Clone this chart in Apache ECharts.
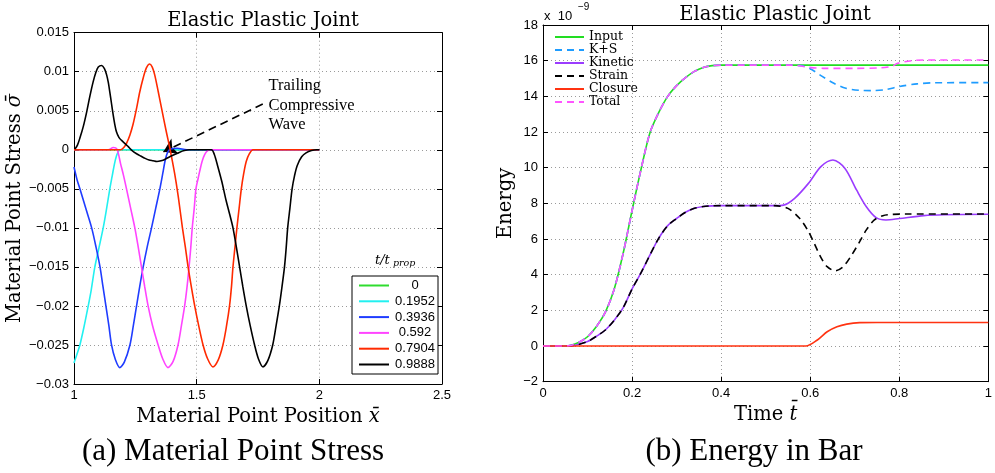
<!DOCTYPE html>
<html><head><meta charset="utf-8">
<script src="https://cdn.jsdelivr.net/npm/echarts@6/dist/echarts.min.js"></script>
<style>html,body{margin:0;padding:0;background:#fff}#c{width:995px;height:473px}</style>
</head><body><div id="c"></div>
<script>
// ---------- Left panel: material point stress ----------
const stressLabels = ['0', '0.1952', '0.3936', '0.592', '0.7904', '0.9888'];
const stressColors = ['#2fdc2f', '#22f0f0', '#1f3cff', '#ff44ff', '#ff2a00', '#000000'];
const stressT0 = [[1, 0], [1.5, 0], [2, 0]];
const stressT1 = [[1.0, -0.0273], [1.012, -0.0262], [1.024, -0.025], [1.04, -0.0228], [1.058, -0.02], [1.07, -0.018], [1.085, -0.015], [1.1, -0.0128], [1.119, -0.01], [1.133, -0.0075], [1.146, -0.005], [1.156, -0.0033], [1.165, -0.0018], [1.173, -0.0008], [1.181, -0.0002], [1.19, 0], [1.4, 0], [2, 0]];
const stressT2 = [[1.0, -0.0022], [1.013, -0.0039], [1.024, -0.005], [1.048, -0.0075], [1.072, -0.01], [1.09, -0.0125], [1.106, -0.015], [1.118, -0.0175], [1.13, -0.02], [1.142, -0.0225], [1.153, -0.025], [1.168, -0.0268], [1.187, -0.0279], [1.205, -0.0272], [1.228, -0.025], [1.242, -0.0225], [1.255, -0.02], [1.268, -0.0175], [1.282, -0.015], [1.298, -0.0125], [1.316, -0.01], [1.333, -0.0075], [1.35, -0.005], [1.362, -0.003], [1.372, -0.0013], [1.382, -0.0003], [1.395, 0.0001], [1.42, 0.0002], [1.46, 0], [2, 0]];
const stressT3 = [[1, 0], [1.14, 0], [1.16, 0.0003], [1.175, 0.0001], [1.19, -0.0018], [1.202, -0.0033], [1.214, -0.005], [1.231, -0.0075], [1.248, -0.01], [1.262, -0.0125], [1.275, -0.015], [1.288, -0.0175], [1.302, -0.02], [1.32, -0.0225], [1.343, -0.025], [1.362, -0.0268], [1.383, -0.0279], [1.404, -0.0271], [1.424, -0.025], [1.438, -0.0225], [1.451, -0.02], [1.461, -0.0175], [1.469, -0.015], [1.476, -0.0125], [1.482, -0.01], [1.49, -0.0075], [1.497, -0.005], [1.505, -0.0038], [1.512, -0.0028], [1.522, -0.0015], [1.533, -0.0006], [1.545, -0.0001], [1.56, 0], [2, 0]];
const stressT4 = [[1, 0], [1.19, 0], [1.203, 0.0003], [1.215, 0.0009], [1.228, 0.0019], [1.241, 0.0033], [1.255, 0.0053], [1.268, 0.0074], [1.282, 0.0092], [1.295, 0.0105], [1.309, 0.011], [1.319, 0.0106], [1.329, 0.0096], [1.343, 0.0075], [1.357, 0.0053], [1.375, 0.0025], [1.392, 0], [1.41, -0.003], [1.425, -0.006], [1.442, -0.01], [1.454, -0.0125], [1.465, -0.015], [1.478, -0.0175], [1.492, -0.02], [1.508, -0.0225], [1.526, -0.025], [1.545, -0.0268], [1.566, -0.0278], [1.588, -0.0269], [1.607, -0.025], [1.622, -0.0225], [1.634, -0.02], [1.642, -0.0175], [1.648, -0.015], [1.656, -0.0125], [1.664, -0.01], [1.673, -0.0075], [1.682, -0.005], [1.692, -0.003], [1.702, -0.0015], [1.715, -0.0005], [1.73, 0], [2, 0]];
const stressT5 = [[1.004, 0.0001], [1.014, 0.0006], [1.024, 0.0015], [1.038, 0.003], [1.052, 0.0049], [1.065, 0.0069], [1.078, 0.0087], [1.089, 0.0099], [1.099, 0.0106], [1.113, 0.0108], [1.124, 0.0104], [1.133, 0.0096], [1.14, 0.0086], [1.146, 0.0074], [1.153, 0.0059], [1.16, 0.0044], [1.166, 0.0033], [1.173, 0.0023], [1.183, 0.0016], [1.194, 0.0012], [1.208, 0.0008], [1.221, 0.0004], [1.237, -0.0001], [1.255, -0.0005], [1.272, -0.0008], [1.29, -0.0011], [1.306, -0.0013], [1.322, -0.0014], [1.338, -0.0015], [1.355, -0.0014], [1.372, -0.0012], [1.39, -0.0009], [1.41, -0.0006], [1.431, -0.0003], [1.45, -0.0001], [1.47, 0], [1.56, 0], [1.572, -0.0006], [1.585, -0.002], [1.602, -0.004], [1.62, -0.0065], [1.634, -0.0082], [1.648, -0.01], [1.662, -0.0125], [1.675, -0.015], [1.688, -0.0175], [1.702, -0.02], [1.718, -0.0225], [1.736, -0.025], [1.752, -0.0268], [1.77, -0.0278], [1.79, -0.027], [1.81, -0.025], [1.824, -0.0225], [1.837, -0.02], [1.848, -0.0175], [1.858, -0.015], [1.865, -0.0125], [1.871, -0.01], [1.88, -0.0075], [1.889, -0.005], [1.899, -0.0033], [1.91, -0.002], [1.928, -0.0009], [1.946, -0.0004], [1.968, -0.0001], [1.99, 0], [2, 0]];
const stressSeries = [stressT0, stressT1, stressT2, stressT3, stressT4, stressT5];
const stressXTicks = [1, 2.5, 0.5];      // min, max, interval
const stressYTicks = [-0.03, 0.015, 0.005];
const arrowFrom = [1.7695, 0.00586];
const arrowTo = [1.3646, -0.00026];
const annotationText = ['Trailing', 'Compressive', 'Wave'];
const annotationAnchor = [1.7927, 0.00942];

// ---------- Right panel: energy in bar (x 1e-9) ----------
const energyNames = ['Input', 'K+S', 'Kinetic', 'Strain', 'Closure', 'Total'];
const energyColors = ['#22dd22', '#1e9cff', '#9b3cff', '#000000', '#ff3311', '#ff55ff'];
const energyDashed = [false, true, false, true, false, true];
const inputE = [[0, 0], [0.04, 0], [0.06, 0.03], [0.08, 0.2], [0.1, 0.52], [0.12, 1.1], [0.14, 1.9], [0.16, 3.2], [0.18, 5.2], [0.2, 7.6], [0.22, 9.9], [0.24, 11.95], [0.26, 13.1], [0.28, 14.0], [0.3, 14.6], [0.32, 15.05], [0.34, 15.4], [0.36, 15.62], [0.38, 15.72], [0.4, 15.75], [0.7, 15.75], [1.0, 15.75]];
const ksE = [[0, 0], [0.04, 0], [0.06, 0.03], [0.08, 0.2], [0.1, 0.52], [0.12, 1.1], [0.14, 1.9], [0.16, 3.2], [0.18, 5.2], [0.2, 7.6], [0.22, 9.9], [0.24, 11.95], [0.26, 13.1], [0.28, 14.0], [0.3, 14.6], [0.32, 15.05], [0.34, 15.4], [0.36, 15.62], [0.38, 15.72], [0.4, 15.75], [0.55, 15.75], [0.58, 15.72], [0.6, 15.55], [0.625, 15.15], [0.653, 14.73], [0.68, 14.45], [0.71, 14.34], [0.74, 14.32], [0.77, 14.38], [0.8, 14.55], [0.84, 14.7], [0.88, 14.76], [1.0, 14.77]];
const kineticE = [[0, 0], [0.05, 0], [0.07, 0.03], [0.1, 0.25], [0.12, 0.55], [0.14, 0.9], [0.16, 1.45], [0.18, 2.15], [0.2, 3.2], [0.22, 4.1], [0.24, 5.1], [0.26, 6.05], [0.28, 6.75], [0.3, 7.15], [0.32, 7.5], [0.34, 7.72], [0.36, 7.82], [0.38, 7.86], [0.4, 7.87], [0.52, 7.87], [0.54, 7.9], [0.565, 8.28], [0.596, 9.12], [0.624, 10.06], [0.651, 10.43], [0.678, 9.96], [0.704, 8.75], [0.726, 7.81], [0.748, 7.2], [0.77, 7.07], [0.8, 7.15], [0.855, 7.31], [0.9, 7.36], [1.0, 7.39]];
const strainE = [[0, 0], [0.05, 0], [0.07, 0.03], [0.1, 0.25], [0.12, 0.55], [0.14, 0.9], [0.16, 1.45], [0.18, 2.15], [0.2, 3.2], [0.22, 4.1], [0.24, 5.1], [0.26, 6.05], [0.28, 6.75], [0.3, 7.15], [0.32, 7.5], [0.34, 7.72], [0.36, 7.82], [0.38, 7.86], [0.4, 7.87], [0.52, 7.87], [0.55, 7.72], [0.576, 7.16], [0.594, 6.51], [0.609, 5.76], [0.623, 5.01], [0.638, 4.45], [0.656, 4.22], [0.674, 4.45], [0.693, 5.1], [0.711, 5.85], [0.726, 6.51], [0.744, 7.07], [0.763, 7.31], [0.785, 7.38], [0.815, 7.4], [1.0, 7.4]];
const closureE = [[0, 0], [0.59, 0], [0.616, 0.34], [0.638, 0.8], [0.66, 1.08], [0.682, 1.23], [0.711, 1.31], [0.75, 1.32], [1.0, 1.32]];
const totalE = [[0, 0], [0.04, 0], [0.06, 0.03], [0.08, 0.2], [0.1, 0.52], [0.12, 1.1], [0.14, 1.9], [0.16, 3.2], [0.18, 5.2], [0.2, 7.6], [0.22, 9.9], [0.24, 11.95], [0.26, 13.1], [0.28, 14.0], [0.3, 14.6], [0.32, 15.05], [0.34, 15.4], [0.36, 15.62], [0.38, 15.72], [0.4, 15.75], [0.56, 15.75], [0.596, 15.63], [0.63, 15.57], [0.7, 15.57], [0.76, 15.6], [0.785, 15.7], [0.796, 15.85], [0.828, 16.0], [0.86, 16.04], [1.0, 16.04]];
const energySeries = [inputE, ksE, kineticE, strainE, closureE, totalE];
const energyXTicks = [0, 1, 0.2];
const energyYTicks = [-2, 18, 2];

const SANS = 'Liberation Sans, Arial, sans-serif';
const SERIF = 'DejaVu Serif, serif';
const TSERIF = 'Liberation Serif, Times New Roman, serif';

function fmtNum(v) {
  const a = +Math.abs(v).toFixed(4);
  return (v < 0 ? '\u2212' : '') + String(a);
}
const nameRich = { a: { fontFamily: SERIF, fontSize: 19.5, color: '#000' }, b: { fontFamily: SERIF, fontSize: 19.5, fontStyle: 'italic', color: '#000' } };

function mainX(grid, ticks, name, gap) {
  return {
    type: 'value', gridIndex: grid, position: 'bottom',
    min: ticks[0], max: ticks[1], interval: ticks[2],
    axisLine: { onZero: false, lineStyle: { color: '#000', width: 1 } },
    axisTick: { inside: true, length: 5, lineStyle: { color: '#000' } },
    axisLabel: { color: '#000', fontFamily: SANS, fontSize: 13, margin: 5, formatter: fmtNum, showMaxLabel: true, showMinLabel: true },
    splitLine: { show: true, lineStyle: { color: '#9a9a9a', type: [1, 3], width: 1 } },
    name: name, nameLocation: 'middle', nameGap: gap,
    nameTextStyle: { color: '#000', fontFamily: SERIF, fontSize: 19.5, rich: nameRich }
  };
}
function mainY(grid, ticks, name, gap) {
  return {
    type: 'value', gridIndex: grid, position: 'left',
    min: ticks[0], max: ticks[1], interval: ticks[2],
    axisLine: { show: true, onZero: false, lineStyle: { color: '#000', width: 1 } },
    axisTick: { show: true, inside: true, length: 5, lineStyle: { color: '#000' } },
    axisLabel: { color: '#000', fontFamily: SANS, fontSize: 13, margin: 5, formatter: fmtNum },
    splitLine: { show: true, lineStyle: { color: '#9a9a9a', type: [1, 3], width: 1 } },
    name: name, nameLocation: 'middle', nameGap: gap, nameRotate: 90,
    nameTextStyle: { color: '#000', fontFamily: SERIF, fontSize: 19.5, rich: nameRich }
  };
}
function frameX(grid, ticks) {
  return { type: 'value', gridIndex: grid, position: 'top', min: ticks[0], max: ticks[1], interval: ticks[2],
    axisLine: { onZero: false, lineStyle: { color: '#000', width: 1 } },
    axisTick: { inside: true, length: 5, lineStyle: { color: '#000' } },
    axisLabel: { show: false }, splitLine: { show: false } };
}
function frameY(grid, ticks) {
  return { type: 'value', gridIndex: grid, position: 'right', min: ticks[0], max: ticks[1], interval: ticks[2],
    axisLine: { show: true, onZero: false, lineStyle: { color: '#000', width: 1 } },
    axisTick: { show: true, inside: true, length: 5, lineStyle: { color: '#000' } },
    axisLabel: { show: false }, splitLine: { show: false } };
}

const series = [];
stressSeries.forEach((d, i) => {
  const s = {
    type: 'line', name: stressLabels[i], xAxisIndex: 0, yAxisIndex: 0, data: d,
    showSymbol: false, symbol: 'none', smooth: 0.3, animation: false,
    lineStyle: { color: stressColors[i], width: 1.6 }, itemStyle: { color: stressColors[i] }, z: 3 + i
  };
  if (i === stressSeries.length - 1) {
    s.markLine = {
      silent: true, animation: false, symbol: ['none', 'arrow'], symbolSize: 13,
      lineStyle: { color: '#000', type: [8, 5], width: 1.6 }, label: { show: false },
      data: [[{ coord: arrowFrom }, { coord: arrowTo }]]
    };
  }
  series.push(s);
});
energySeries.forEach((d, i) => {
  series.push({
    type: 'line', name: energyNames[i], xAxisIndex: 1, yAxisIndex: 1, data: d,
    showSymbol: false, symbol: 'none', smooth: 0.3, animation: false,
    lineStyle: { color: energyColors[i], width: 1.6, type: energyDashed[i] ? [7, 5] : 'solid' },
    itemStyle: { color: energyColors[i] }, z: 3 + i
  });
});

const chart = echarts.init(document.getElementById('c'), null, { renderer: 'canvas' });
const hiddenSymbol = { color: 'rgba(0,0,0,0)', borderWidth: 0, opacity: 0 };
const option = {
  animation: false,
  backgroundColor: '#fff',
  title: [
    { text: 'Elastic Plastic Joint', left: 258, top: 6, textAlign: 'center', textStyle: { fontFamily: SERIF, fontSize: 19.5, fontWeight: 'normal', color: '#000' } },
    { text: 'Elastic Plastic Joint', left: 770, top: 0, textAlign: 'center', textStyle: { fontFamily: SERIF, fontSize: 19.5, fontWeight: 'normal', color: '#000' } }
  ],
  grid: [
    { left: 74, top: 32.7, width: 368, height: 351.3, show: false },
    { left: 543, top: 25, width: 454.5, height: 356.7, show: false }
  ],
  xAxis: [
    mainX(0, stressXTicks, '{a|Material Point Position }{b|x\u0304}', 16),
    mainX(1, energyXTicks, '{a|Time }{b|t\u0304}', 18),
    frameX(0, stressXTicks), frameX(1, energyXTicks)
  ],
  yAxis: [
    mainY(0, stressYTicks, '{a|Material Point Stress }{b|\u03c3\u0304}', 38),
    mainY(1, energyYTicks, '{a|Energy}', 27),
    frameY(0, stressYTicks), frameY(1, energyYTicks)
  ],
  legend: [
    {
      data: stressLabels, orient: 'vertical', left: 352, top: 276,
      padding: [3, 2, 3, 6], itemWidth: 30, itemHeight: 14, itemGap: 2.8,
      borderColor: '#000', borderWidth: 1, backgroundColor: '#fff', borderRadius: 0,
      itemStyle: hiddenSymbol,
      formatter: n => '{c|' + n + '}',
      textStyle: { color: '#000', fontFamily: SANS, fontSize: 13,
        rich: { c: { width: 42, align: 'center', fontFamily: SANS, fontSize: 13, color: '#000', lineHeight: 14 } } },
      selectedMode: false
    },
    {
      data: energyNames, orient: 'vertical', left: 554, top: 30.5,
      padding: 0, itemWidth: 29, itemHeight: 12.6, itemGap: 0,
      itemStyle: hiddenSymbol,
      textStyle: { color: '#000', fontFamily: SERIF, fontSize: 12.5, lineHeight: 12.6 },
      selectedMode: false
    }
  ],
  series: series,
  graphic: [
    { type: 'text', left: 375, top: 254, style: { text: 't/t', font: 'italic 13px ' + SERIF, fill: '#000' } },
    { type: 'text', left: 393, top: 259, style: { text: 'prop', font: 'italic 9.5px ' + SERIF, fill: '#000' } },
    { type: 'text', left: 544, top: 10, style: { text: 'x  10', font: '13px ' + SANS, fill: '#000' } },
    { type: 'text', left: 578, top: 2, style: { text: '\u22129', font: '10px ' + SANS, fill: '#000' } },
    { type: 'text', x: 233, y: 452, style: { text: '(a) Material Point Stress', font: '31px ' + TSERIF, fill: '#000', align: 'center', verticalAlign: 'middle' } },
    { type: 'text', x: 754, y: 452, style: { text: '(b) Energy in Bar', font: '31px ' + TSERIF, fill: '#000', align: 'center', verticalAlign: 'middle' } }
  ]
};
chart.setOption(option);

// annotation text placed via data coordinates of the stress panel
const p = chart.convertToPixel({ xAxisIndex: 0, yAxisIndex: 0 }, annotationAnchor);
chart.setOption({
  graphic: option.graphic.concat([
    { type: 'text', x: p[0], y: p[1], style: { text: annotationText.join('\n'), font: '16.5px ' + TSERIF, lineHeight: 19.5, fill: '#000', align: 'left', verticalAlign: 'top' } }
  ])
});
</script>
</body></html>
